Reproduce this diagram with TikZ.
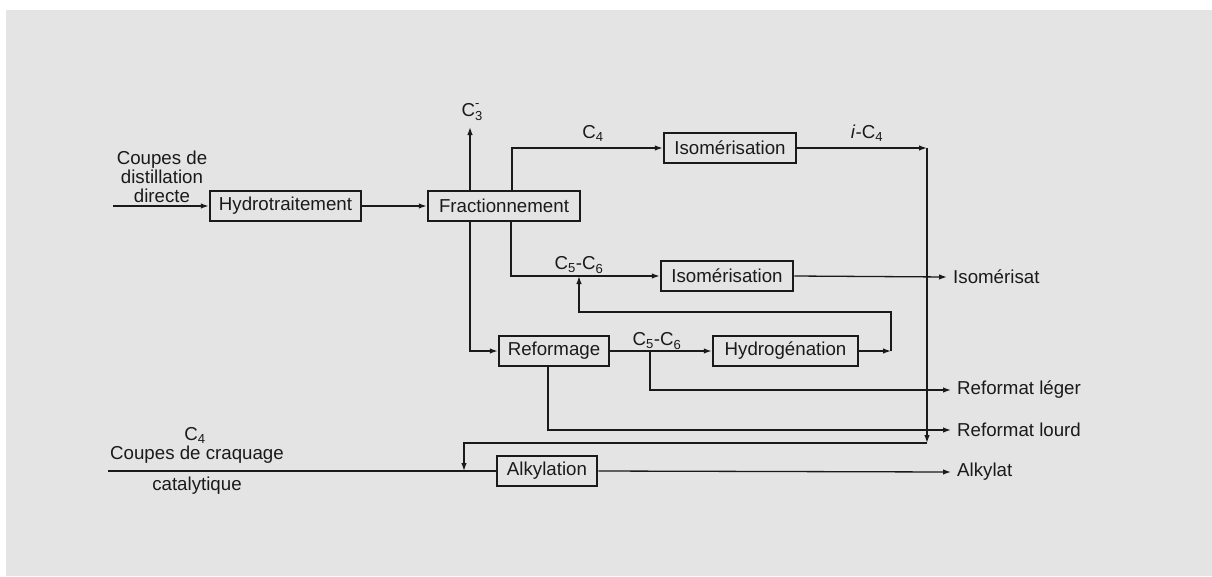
\documentclass[tikz,border=0pt]{standalone}
\usepackage{fontspec}
\setmainfont{Liberation Sans}
\usetikzlibrary{arrows.meta}
\definecolor{bg}{HTML}{E4E4E4}
\definecolor{ink}{HTML}{1A1A1A}
\begin{document}
\begin{tikzpicture}[x=1pt,y=-1pt,
  box/.style={draw=ink,line width=2.5pt,minimum height=30pt,inner sep=0pt,font=\fontsize{18.7}{19}\selectfont,text=ink},
  conn/.style={draw=ink,line width=1.3pt},
  arr/.style={conn,-{Latex[length=8pt,width=5.5pt]}},
  lbl/.style={font=\fontsize{18.7}{19}\selectfont,text=ink,inner sep=0pt},
  outlbl/.style={lbl,anchor=west,inner xsep=6pt}]
\useasboundingbox (0,0) rectangle (1212,576);
\fill[white] (0,0) rectangle (1212,576);
\fill[bg] (6,10) rectangle (1212,576);

% boxes
\node[box,minimum width=151pt] (hydro) at (285.5,206) {Hydrotraitement};
\node[box,minimum width=152pt] (frac) at (504,206) {Fractionnement};
\node[box,minimum width=132pt] (iso1) at (730,148) {Isomérisation};
\node[box,minimum width=132pt] (iso2) at (727,276) {Isomérisation};
\node[box,minimum width=110pt] (ref) at (554,351) {Reformage};
\node[box,minimum width=145pt] (hyd) at (785.5,351) {Hydrogénation};
\node[box,minimum width=100pt] (alk) at (547,471) {Alkylation};

% text labels
\node[lbl,align=center] (din) at (162,177) {Coupes de\\distillation\\directe};
\node[lbl] (c3lab) at (472,112) {C\rlap{\raisebox{0.95ex}{\fontsize{13}{13}\selectfont -}}\raisebox{-0.45ex}{\fontsize{13}{13}\selectfont 3}};
\node[lbl] (c4lab) at (593,133) {C\textsubscript{4}};
\node[lbl] (ic4lab) at (867,133) {\textit{i}-C\textsubscript{4}};
\node[lbl] (c56lab) at (579,265) {C\textsubscript{5}-C\textsubscript{6}};
\node[lbl] (c56blab) at (657,341) {C\textsubscript{5}-C\textsubscript{6}};
\node[lbl] (cc4) at (195,435) {C\textsubscript{4}};
\node[lbl] (ccr) at (197,455) {Coupes de craquage};
\node[lbl] (cat) at (197,486) {catalytique};

% outputs
\node[outlbl] (oiso) at (947,277) {Isomérisat};
\node[outlbl] (oleg) at (951,390) {Reformat léger};
\node[outlbl] (olou) at (951,430) {Reformat lourd};
\node[outlbl] (oalk) at (951,472) {Alkylat};

% coordinates
\coordinate (in1) at (113,206);
\coordinate (in2) at (108,471);
\coordinate (c3) at (470,127);
\coordinate (c4c) at (512,148);
\coordinate (ic) at (927,148);
\coordinate (icb) at (927,443);
\coordinate (al1) at (464,443);
\coordinate (al2) at (464,471);
\coordinate (c56) at (511,276);
\coordinate (rf) at (470,351);
\coordinate (lg1) at (650,351);
\coordinate (lg2) at (650,390);
\coordinate (lo) at (548,430);
\coordinate (fb1) at (891,351);
\coordinate (fb2) at (891,312);
\coordinate (fb3) at (579,312);
\coordinate (fb4) at (579,276);

% connectors
\draw[arr] (in1) -- (hydro.west);
\draw[arr] (hydro.east) -- (frac.west);
\draw[arr] (frac.north -| c3) -- (c3);
\draw[arr] (frac.north -| c4c) -- (c4c) -- (iso1.west);
\draw[arr] (iso1.east) -- (ic);
\draw[arr] (ic) -- (icb);
\draw[arr] (icb) -- (al1) -- (al2);
\draw[arr] (frac.south -| c56) -- (c56) -- (iso2.west);
\draw[arr] (iso2.east) -- (oiso.west);
\draw[arr] (frac.south -| rf) -- (rf) -- (ref.west);
\draw[arr] (ref.east) -- (hyd.west);
\draw[arr] (lg1) -- (lg2) -- (oleg.west);
\draw[arr] (hyd.east) -- (fb1);
\draw[arr] (fb1) -- (fb2) -- (fb3) -- (fb4);
\draw[arr] (ref.south -| lo) -- (lo) -- (olou.west);
\draw[conn] (in2) -- (alk.west);
\draw[arr] (alk.east) -- (oalk.west);
\end{tikzpicture}
\end{document}
